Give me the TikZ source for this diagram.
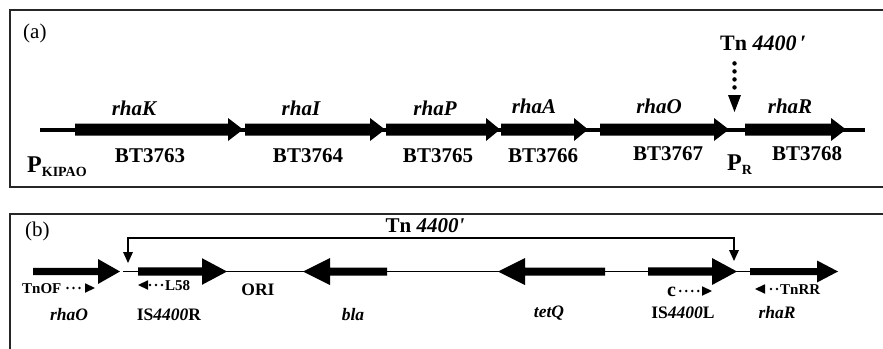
\documentclass[tikz,border=0pt]{standalone}
\usepackage{fontspec}
\setmainfont{Liberation Serif}
\usetikzlibrary{arrows.meta}

% filled gene arrow: #1 tail x, #2 head base x, #3 tip x, #4 axis y, #5 half body, #6 half head
\newcommand\genearrow[6]{%
  \fill (#1,#4-#5) -- (#2,#4-#5) -- (#2,#4-#6) -- (#3,#4) -- (#2,#4+#6) -- (#2,#4+#5) -- (#1,#4+#5) -- cycle;}

\tikzset{
  frame/.style={draw=black!85, line width=1.3pt},
  txt/.style={inner sep=0pt, anchor=base},
  biglbl/.style={txt, font=\fontsize{21}{24}\selectfont\bfseries},
  bigita/.style={txt, font=\fontsize{21}{24}\selectfont\bfseries\itshape},
  midlbl/.style={txt, font=\fontsize{17.5}{20}\selectfont\bfseries},
  midita/.style={txt, font=\fontsize{17.5}{20}\selectfont\bfseries\itshape},
  smalllbl/.style={txt, font=\fontsize{15}{17}\selectfont\bfseries},
  panellbl/.style={txt, anchor=base west, font=\fontsize{21}{24}\selectfont},
  dotline/.style={line width=4.5pt, line cap=round, dash pattern=on 0pt off 8pt},
  primer/.style={line width=2.8pt, line cap=round, dash pattern=on 0pt off 6pt,
    -{Triangle[length=10pt, width=9.5pt, line width=0pt]}},
  bracket/.style={line width=1.2pt,
    {Triangle[length=11pt, width=10pt, line width=0pt]}-{Triangle[length=11pt, width=10pt, line width=0pt]}},
}

\begin{document}
\begin{tikzpicture}[x=1pt, y=-1pt]
\clip (0,0) rectangle (883,348);
\fill[white] (0,0) rectangle (883,348);

% ---------------- panel (a) ----------------
\draw[frame] (10,10) rectangle (900,187);
\node[panellbl] (pa) at (23,38) {(a)};

% operon backbone
\draw[line width=4pt] (40,129.5) -- (865,129.5);

% genes
\genearrow{75}{228}{243}{129.5}{6}{11.5}
\genearrow{245}{370}{385}{129.5}{6}{11.5}
\genearrow{386}{486}{500}{129.5}{6}{11.5}
\genearrow{501}{574}{588}{129.5}{6}{11.5}
\genearrow{600}{714}{729}{129.5}{6}{11.5}
\genearrow{745}{831}{846}{129.5}{6}{11.5}

% gene names
\node[bigita] (rhaK) at (134,115) {rhaK};
\node[bigita] (rhaI) at (301,115) {rhaI};
\node[bigita] (rhaP) at (435,115) {rhaP};
\node[bigita] (rhaA) at (534,113) {rhaA};
\node[bigita] (rhaOa) at (659,113) {rhaO};
\node[bigita] (rhaRa) at (790,113) {rhaR};

% locus tags
\node[biglbl] (bt63) at (150,162) {BT3763};
\node[biglbl] (bt64) at (308,162) {BT3764};
\node[biglbl] (bt65) at (438,162) {BT3765};
\node[biglbl] (bt66) at (543,162) {BT3766};
\node[biglbl] (bt67) at (668,160) {BT3767};
\node[biglbl] (bt68) at (807,160) {BT3768};

% promoters
\node[txt, anchor=base west, font=\bfseries] (pk) at (27,172)
  {\fontsize{24}{28}\selectfont P\raisebox{-4pt}{\fontsize{14}{16}\selectfont KIPAO}};
\node[txt, anchor=base west, font=\bfseries] (pr) at (727,170)
  {\fontsize{24}{28}\selectfont P\raisebox{-4pt}{\fontsize{14}{16}\selectfont R}};

% transposon insertion site
\node[txt, anchor=base west, font=\fontsize{22}{24}\selectfont\bfseries] (tna) at (720,50)
  {Tn \textit{4400}\,′};
\coordinate (tnhead) at (734.5,95);
\draw[dotline] ([yshift=-13pt]tna.south -| tnhead) -- ([yshift=7.5pt]tnhead);
\fill (tnhead) ++(-6.5,0) -- ++(13,0) -- ++(-6.5,17) -- cycle;

% ---------------- panel (b) ----------------
\draw[frame] (10,214) rectangle (900,360);
\node[panellbl] (pb) at (25,236) {(b)};

% insertion bracket
\coordinate (brL) at (128,263);
\coordinate (brR) at (734,261);
\coordinate (brTop) at (0,238);
\draw[bracket] (brL) -- (brL |- brTop) -| (brR);
\node[txt, font=\fontsize{21}{24}\selectfont\bfseries] (tnb) at (425,232)
  {Tn \textit{4400\textquotesingle}};

% backbone
\draw[line width=1.3pt] (123,271.5) -- (750,271.5);

% genes
\genearrow{33}{98}{120}{271.5}{3.7}{12.5}
\genearrow{138}{202}{227}{271.5}{4.2}{13.3}
\genearrow{387}{330}{303}{271.5}{4}{13.5}
\genearrow{605}{525}{498}{271.5}{4}{13.5}
\genearrow{648}{712}{737}{271.5}{4.2}{13.5}
\genearrow{750}{817}{838}{271.5}{3.5}{11}

% primers
\node[smalllbl, anchor=base west] (tnof) at (22,293) {TnOF};
\coordinate (tnofend) at (95,288);
\draw[primer] ([xshift=6pt]tnof.east |- tnofend) -- (tnofend);

\node[smalllbl, anchor=base west] (l58) at (165,290) {L58};
\coordinate (l58end) at (138,285);
\draw[primer] ([xshift=-3pt]l58.west |- l58end) -- (l58end);

\node[txt, anchor=base west, font=\fontsize{20}{22}\selectfont\bfseries] (cpr) at (667,296) {c};
\coordinate (cend) at (712,291);
\draw[primer] ([xshift=4pt]cpr.east |- cend) -- (cend);

\node[smalllbl, anchor=base west] (tnrr) at (780,294) {TnRR};
\coordinate (tnrrend) at (755,289);
\draw[primer] ([xshift=-3pt]tnrr.west |- tnrrend) -- (tnrrend);

% element and gene names
\node[midlbl] (ori) at (258,295) {ORI};
\node[midita] (rhaOb) at (69,320) {rhaO};
\node[midlbl] (isr) at (169,320) {IS\textit{4400}R};
\node[midita] (bla) at (353,320) {bla};
\node[midita] (tetq) at (549,317) {tetQ};
\node[midlbl] (isl) at (683,318) {IS\textit{4400}L};
\node[midita] (rhaRb) at (777,318) {rhaR};
\end{tikzpicture}
\end{document}
